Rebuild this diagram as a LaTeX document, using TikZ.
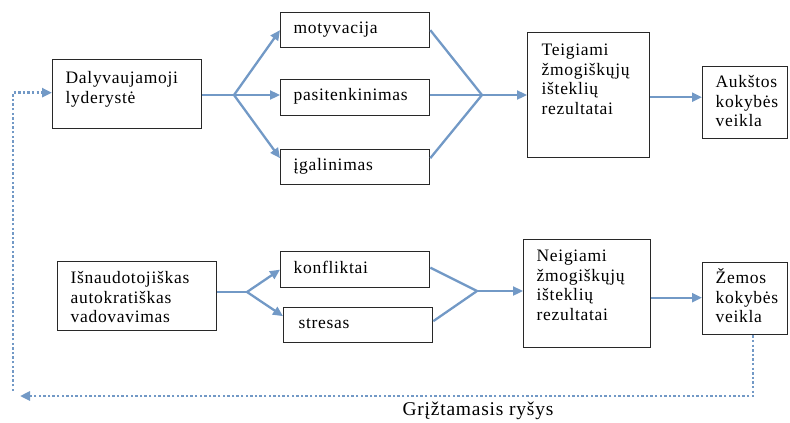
\documentclass[tikz,border=0pt]{standalone}
\usepackage{fontspec}
\setmainfont{Liberation Serif}[LetterSpace=4]
\usetikzlibrary{arrows.meta}
\definecolor{flowblue}{RGB}{114,153,198}
\definecolor{boxline}{RGB}{40,40,40}

\begin{document}
\begin{tikzpicture}[x=1pt,y=-1pt,
  box/.style={draw=boxline, line width=1.3pt, anchor=north west, inner sep=0pt,
    align=left, font=\fontsize{17.5}{19.5}\selectfont, text=black},
  pad/.style={execute at begin node={\leftskip=#1\relax}},
  flow/.style={draw=flowblue, line width=2.3pt},
  tip/.style={-{Triangle[length=10pt,width=9pt]}},
  fb/.style={draw=flowblue, line width=2.6pt, dash pattern=on 2.4pt off 2.2pt},
]
\useasboundingbox (0,0) rectangle (790,423);

% upper chain
\node[box, pad=13pt, text width=149pt, text height=24pt, text depth=45pt] (dal) at (52,59) {Dalyvaujamoji\\lyderystė};
\node[box, pad=13pt, text width=149pt, text height=21pt, text depth=14pt] (mot) at (280,12) {motyvacija};
\node[box, pad=13pt, text width=149pt, text height=21pt, text depth=15pt] (pas) at (280,79) {pasitenkinimas};
\node[box, pad=13pt, text width=149pt, text height=21pt, text depth=14pt] (iga) at (280,149) {įgalinimas};
\node[box, pad=14pt, text width=122pt, text height=23pt, text depth=102pt] (teig) at (527,32) {Teigiami\\žmogiškųjų\\išteklių\\rezultatai};
\node[box, pad=13pt, text width=85pt, text height=21pt, text depth=51pt] (auk) at (702,66) {Aukštos\\kokybės\\veikla};

% lower chain
\node[box, pad=13pt, text width=159pt, text height=22pt, text depth=47pt] (isn) at (57,261) {Išnaudotojiškas\\autokratiškas\\vadovavimas};
\node[box, pad=13pt, text width=149pt, text height=22pt, text depth=14pt] (kon) at (280,251) {konfliktai};
\node[box, pad=15pt, text width=149pt, text height=21pt, text depth=14pt] (str) at (283,307) {stresas};
\node[box, pad=13pt, text width=127pt, text height=22pt, text depth=86pt] (neg) at (523,239) {Neigiami\\žmogiškųjų\\išteklių\\rezultatai};
\node[box, pad=13pt, text width=85pt, text height=21pt, text depth=51pt] (zem) at (702,262) {Žemos\\kokybės\\veikla};

% fork and join points
\coordinate (f1) at (234,95);
\coordinate (j1) at (482,95);
\coordinate (f2) at (247,292);
\coordinate (j2) at (477,291);

% upper connectors
\draw[flow,tip] (dal.east |- f1) -- (pas.west |- f1);
\draw[flow,tip] (f1) -- (mot.west);
\draw[flow,tip] (f1) -- ([yshift=9pt]iga.west);
\draw[flow] (mot.east) -- (j1);
\draw[flow] (pas.east |- j1) -- (j1);
\draw[flow] ([yshift=9pt]iga.east) -- (j1);
\draw[flow,tip] (j1) -- (teig.west |- j1);
\draw[flow,tip] ([yshift=-2pt]teig.east) -- ([yshift=-2pt]teig.east -| auk.west);

% lower connectors
\draw[flow] (isn.east |- f2) -- (f2);
\draw[flow,tip] (f2) -- (kon.west);
\draw[flow,tip] (f2) -- ([yshift=9pt]str.west);
\draw[flow] ([yshift=2pt]kon.east) -- (j2);
\draw[flow] ([yshift=4pt]str.east) -- (j2);
\draw[flow,tip] (j2) -- (neg.west |- j2);
\draw[flow,tip] ([yshift=-4pt]neg.east) -- ([yshift=-4pt]neg.east -| zem.west);

% feedback loop
\coordinate (fbl) at (20,396);
\coordinate (fbu) at (13,391);
\draw[fb,tip] ([xshift=8pt]zem.south) |- (fbl);
\draw[fb,tip] (fbu) |- ([yshift=1.5pt]dal.west);
\node[font=\fontsize{19.5}{22}\selectfont, anchor=base] (fblabel) at (478,415) {Grįžtamasis ryšys};
\end{tikzpicture}
\end{document}
